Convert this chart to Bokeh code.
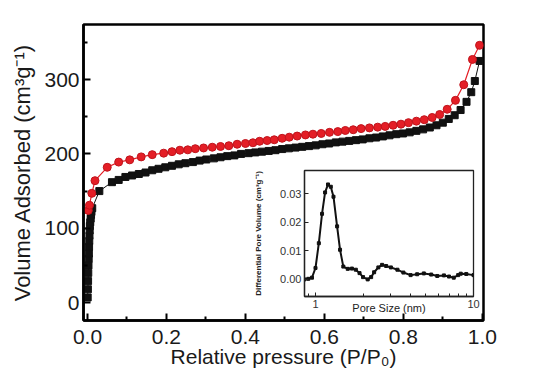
from bokeh.plotting import figure
from bokeh.models import Range1d, FixedTicker, Label
from bokeh.embed import file_html
from bokeh.resources import INLINE

# ---------------- data ----------------
ads_x = [0.0005, 0.001, 0.0015, 0.002, 0.0025, 0.003, 0.0035, 0.004, 0.0045, 0.005,
         0.0055, 0.006, 0.007, 0.008, 0.009, 0.010, 0.012,
         0.030, 0.062, 0.079, 0.096, 0.113, 0.130, 0.147, 0.164, 0.180, 0.197,
         0.214, 0.231, 0.248, 0.267, 0.284, 0.301, 0.320, 0.337, 0.354, 0.372,
         0.389, 0.408, 0.425, 0.442, 0.459, 0.476, 0.493, 0.510, 0.527, 0.544,
         0.561, 0.578, 0.595, 0.612, 0.629, 0.646, 0.663, 0.680, 0.697, 0.714,
         0.731, 0.748, 0.765, 0.782, 0.799, 0.816, 0.833, 0.850, 0.867, 0.884,
         0.900, 0.915, 0.930, 0.945, 0.960, 0.972, 0.981, 0.993]
ads_y = [7, 18, 29, 40, 50, 59, 66, 75, 83, 90,
         97, 103, 108, 113, 118, 122, 127,
         150, 162, 165, 169, 171, 173, 175, 178, 180, 182,
         184, 186, 187.5, 189, 191, 192.5, 194, 195.5, 197, 198,
         200, 201, 202, 203, 204, 205, 206.5, 207.5, 208.5, 209.5,
         210.5, 211.5, 213, 214, 215.5, 216.5, 217.5, 218.5, 219.5, 221,
         222, 223.5, 225, 226.5, 227.5, 229, 231, 233, 235.5, 238.5,
         242, 247, 252, 259, 270, 283, 298, 325]

des_x = [0.002, 0.005, 0.011, 0.019, 0.050, 0.079, 0.107, 0.136, 0.164, 0.193,
         0.214, 0.234, 0.254, 0.273, 0.294, 0.316, 0.337, 0.358, 0.379, 0.400,
         0.419, 0.436, 0.455, 0.473, 0.493, 0.511, 0.531, 0.552, 0.571, 0.592,
         0.613, 0.634, 0.653, 0.673, 0.693, 0.714, 0.735, 0.754, 0.774, 0.794,
         0.813, 0.833, 0.853, 0.873, 0.892, 0.911, 0.932, 0.953, 0.975, 0.993]
des_y = [124, 131, 147, 164, 182, 189, 192, 196, 199, 201,
         203, 205, 205.5, 207, 208, 209, 210, 211, 213, 214,
         215, 217, 218, 219, 221, 222.5, 224, 225.5, 226.5, 227.5,
         229, 230, 231.5, 232.5, 234, 235, 236, 237, 238.5, 240,
         242, 244, 246, 249, 253, 260, 272, 293, 327, 346]

pore_size = [0.85, 0.90, 0.95, 1.00, 1.05, 1.10, 1.15, 1.20, 1.25, 1.30, 1.37,
             1.43, 1.50, 1.60, 1.70, 1.80, 1.90, 2.00, 2.14, 2.25, 2.35, 2.50,
             2.64, 2.80, 3.00, 3.30, 3.60, 4.00, 4.40, 4.85, 5.40, 5.90, 6.50,
             7.00, 7.50, 8.00, 8.30, 9.00, 10.0]
pore_vol = [0.0000, 0.0002, 0.0006, 0.0040, 0.0127, 0.0230, 0.0305, 0.0333, 0.0325, 0.0290, 0.0186,
            0.0104, 0.0045, 0.0037, 0.0038, 0.0034, 0.0022, 0.0008, 0.0000, 0.0008, 0.0025, 0.0042,
            0.0051, 0.0047, 0.0042, 0.0034, 0.0024, 0.0015, 0.0018, 0.0021, 0.0017, 0.0012, 0.0014,
            0.0010, 0.0006, 0.0015, 0.0020, 0.0019, 0.0015]

x_ticks = [0.0, 0.2, 0.4, 0.6, 0.8, 1.0]
x_tick_labels = ["0.0", "0.2", "0.4", "0.6", "0.8", "1.0"]
x_minor = [0.1, 0.3, 0.5, 0.7, 0.9]
y_ticks = [0, 100, 200, 300]
y_tick_labels = ["0", "100", "200", "300"]
y_minor = [-50, 50, 150, 250, 350]

in_x_ticks = [1, 10]
in_x_tick_labels = ["1", "10"]
in_x_minor = [0.9, 2, 3, 4, 5, 6, 7, 8, 9]
in_y_ticks = [0.0, 0.01, 0.02, 0.03]
in_y_tick_labels = ["0.00", "0.01", "0.02", "0.03"]

FONT = "Liberation Sans"
TXT = "#1a1a1a"

# ---------------- main plot ----------------
p = figure(width=560, height=377, output_backend="svg", toolbar_location=None,
           x_range=Range1d(-0.0101, 1.003), y_range=Range1d(-24, 374),
           min_border_left=83, min_border_right=77, min_border_top=24, min_border_bottom=57)
p.background_fill_color = "white"
p.border_fill_color = "white"
p.outline_line_color = "black"
p.outline_line_width = 2.5
p.grid.visible = False

p.xaxis.ticker = FixedTicker(ticks=x_ticks, minor_ticks=x_minor)
p.xaxis.major_label_overrides = {t: l for t, l in zip(x_ticks, x_tick_labels)}
p.yaxis.ticker = FixedTicker(ticks=y_ticks, minor_ticks=y_minor)
p.yaxis.major_label_overrides = {t: l for t, l in zip(y_ticks, y_tick_labels)}

for ax in (p.xaxis[0], p.yaxis[0]):
    ax.axis_line_color = "black"
    ax.axis_line_width = 2.5
    ax.major_tick_in = 7
    ax.major_tick_out = 0
    ax.minor_tick_in = 4
    ax.minor_tick_out = 0
    ax.major_tick_line_width = 2
    ax.minor_tick_line_width = 2
    ax.major_tick_line_color = "black"
    ax.minor_tick_line_color = "black"
    ax.major_label_text_font = FONT
    ax.major_label_text_font_size = "21px"
    ax.major_label_text_color = TXT
    ax.axis_label_text_font = FONT
    ax.axis_label_text_font_style = "normal"
    ax.axis_label_text_color = TXT

p.xaxis.major_label_standoff = 9
p.xaxis.axis_label = "Relative pressure (P/P\u2080)"
p.xaxis.axis_label_text_font_size = "21px"
p.xaxis.axis_label_standoff = -2
p.yaxis.major_label_standoff = 4
p.yaxis.axis_label = "Volume Adsorbed (cm\u00b3g\u207b\u00b9)"
p.yaxis.axis_label_text_font_size = "22px"
p.yaxis.axis_label_standoff = 6

# adsorption (black squares)
p.line(ads_x, ads_y, line_color="#111111", line_width=1)
p.scatter(ads_x, ads_y, marker="square", size=7, fill_color="#111111", line_color="#111111")
# desorption (red circles)
p.line(des_x, des_y, line_color="#e41e26", line_width=1.2)
p.scatter(des_x, des_y, marker="circle", size=8, fill_color="#e41e26", line_color="#c0141c", line_width=1)

p.add_layout(Label(x=0.813, y=-81, text="\u4e8c\u7ef4\u6750\u65992DMaterial",
                   text_font="Noto Sans CJK SC", text_font_size="12px",
                   text_color="#444444", text_baseline="middle"))

# ---------------- inset ----------------
q = figure(frame_width=169, frame_height=126, output_backend="svg", toolbar_location=None,
           x_axis_type="log", x_range=Range1d(0.852, 10), y_range=Range1d(-0.006, 0.0382),
           min_border_left=56, min_border_right=8, min_border_top=5, min_border_bottom=18)
q.background_fill_color = "white"
q.border_fill_alpha = 0
q.outline_line_color = "#222222"
q.outline_line_width = 1.3
q.grid.visible = False
q.xaxis.ticker = FixedTicker(ticks=in_x_ticks, minor_ticks=in_x_minor)
q.xaxis.major_label_overrides = {t: l for t, l in zip(in_x_ticks, in_x_tick_labels)}
q.yaxis.ticker = FixedTicker(ticks=in_y_ticks, minor_ticks=[])
q.yaxis.major_label_overrides = {t: l for t, l in zip(in_y_ticks, in_y_tick_labels)}
for ax in (q.xaxis[0], q.yaxis[0]):
    ax.axis_line_color = "#222222"
    ax.axis_line_width = 1.3
    ax.major_tick_in = 4
    ax.major_tick_out = 0
    ax.minor_tick_in = 3
    ax.minor_tick_out = 0
    ax.major_tick_line_color = "#222222"
    ax.minor_tick_line_color = "#222222"
    ax.major_label_text_font = FONT
    ax.major_label_text_font_size = "11px"
    ax.major_label_text_color = "#333333"
    ax.axis_label_text_font = FONT
    ax.axis_label_text_font_style = "normal"
    ax.axis_label_text_color = "#222222"
q.xaxis.major_label_standoff = 3
q.xaxis.axis_label = "Pore Size (nm)"
q.xaxis.axis_label_text_font_size = "11px"
q.xaxis.axis_label_standoff = -9
q.yaxis.major_label_standoff = 3
q.yaxis.axis_label = "Differential Pore Volume (cm\u00b3g\u207b\u00b9)"
q.yaxis.axis_label_text_font_size = "8px"
q.yaxis.axis_label_text_font_style = "bold"
q.yaxis.axis_label_standoff = 14

q.line(pore_size, pore_vol, line_color="#111111", line_width=2)
q.scatter(pore_size, pore_vol, marker="square", size=3, fill_color="#111111", line_color="#111111")

q.styles = {"position": "absolute", "left": "248px", "top": "165px"}

open("out.html", "w").write(file_html([p, q], INLINE))
